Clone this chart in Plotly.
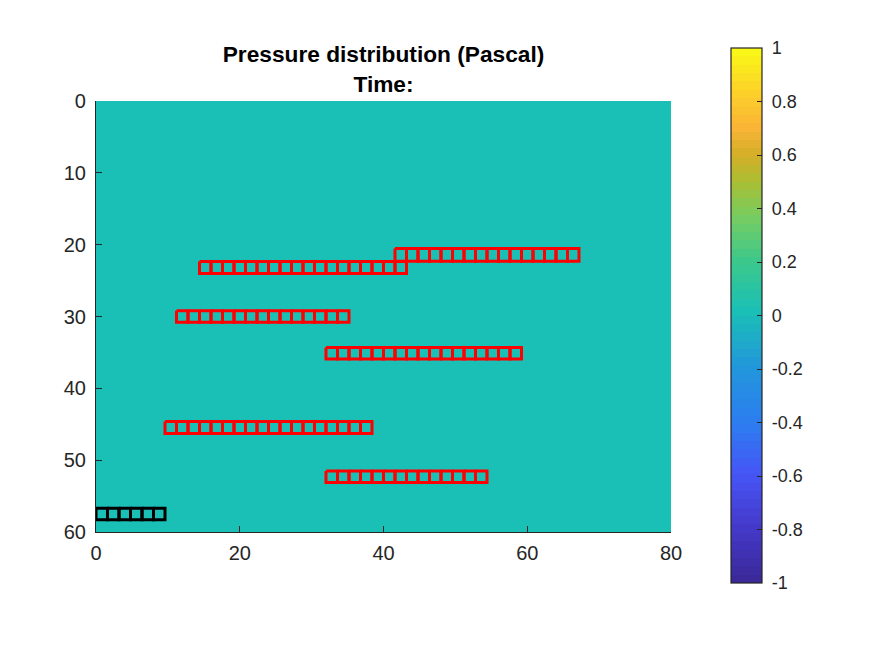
import plotly.graph_objects as go

# Pressure field (uniformly zero)
field_x = [0, 80]
field_y = [0, 60]
field_z = [[0]]

# Element rows: left edge, number of cells, top, bottom
CELL_WIDTH = 1.6
red_x0 = [14.4, 11.2, 41.6, 32.0, 9.6, 32.0]
red_n = [18, 15, 16, 17, 18, 14]
red_top = [22.35, 29.2, 20.55, 34.3, 44.6, 51.5]
red_bot = [24.0, 30.8, 22.3, 35.9, 46.3, 53.1]
black_x0 = [0.0]
black_n = [6]
black_top = [56.7]
black_bot = [58.3]

x_ticks = [0, 20, 40, 60, 80]
y_ticks = [0, 10, 20, 30, 40, 50, 60]
cbar_ticks = [-1, -0.8, -0.6, -0.4, -0.2, 0, 0.2, 0.4, 0.6, 0.8, 1]
cbar_labels = ["-1", "-0.8", "-0.6", "-0.4", "-0.2", "0", "0.2", "0.4", "0.6", "0.8", "1"]

# Colormap anchors, low to high
anchors = [
    (0.00, (58, 40, 150)), (0.10, (68, 56, 200)), (0.20, (70, 84, 245)),
    (0.30, (44, 125, 240)), (0.40, (34, 150, 220)), (0.508, (26, 191, 181)),
    (0.60, (60, 200, 140)), (0.68, (115, 205, 100)), (0.75, (170, 190, 50)),
    (0.80, (212, 175, 40)), (0.85, (250, 180, 55)), (0.92, (252, 210, 40)),
    (1.00, (249, 251, 21)),
]
N_STEPS = 64


def sample(t):
    for (a, ca), (b, cb) in zip(anchors, anchors[1:]):
        if t <= b:
            f = (t - a) / (b - a)
            return tuple(round(p + (q - p) * f) for p, q in zip(ca, cb))
    return anchors[-1][1]


colorscale = []
for i in range(N_STEPS):
    c = sample((i + 0.5) / N_STEPS)
    col = f"rgb{c}"
    colorscale.append([i / N_STEPS, col])
    colorscale.append([(i + 1) / N_STEPS, col])


def grid(x0s, ns, tops, bots):
    xs, ys = [], []
    for x0, n, t, b in zip(x0s, ns, tops, bots):
        for i in range(n):
            l, r = x0 + i * CELL_WIDTH, x0 + (i + 1) * CELL_WIDTH
            xs += [l, r, r, l, l, None]
            ys += [t, t, b, b, t, None]
    return xs, ys


INK = "#262626"
FONT = "Liberation Sans, Arial, sans-serif"
OFF = 8  # page margin around the figure
W, H = 875 - 2 * OFF, 656 - 2 * OFF
PW, PH = 671 - 96, 532 - 101

fig = go.Figure()
fig.add_trace(go.Heatmap(
    x=field_x, y=field_y, z=field_z, zmin=-1, zmax=1, colorscale=colorscale,
    hoverinfo="skip",
    colorbar=dict(
        thicknessmode="pixels", thickness=31, lenmode="fraction", len=535 / PH,
        x=(731 - 96) / PW, xanchor="left", xpad=0,
        y=(532 - 315.5) / PH, yanchor="middle", ypad=0,
        outlinecolor=INK, outlinewidth=1.2,
        ticks="inside", ticklen=5, tickwidth=1, tickcolor=INK,
        tickvals=cbar_ticks, ticktext=["\u00a0" + s for s in cbar_labels],
        tickfont=dict(family=FONT, size=18, color=INK),
    ),
))
rx, ry = grid(red_x0, red_n, red_top, red_bot)
fig.add_trace(go.Scatter(x=rx, y=ry, mode="lines", line=dict(color="#ff0000", width=3), hoverinfo="skip", showlegend=False))
bx, by = grid(black_x0, black_n, black_top, black_bot)
fig.add_trace(go.Scatter(x=bx, y=by, mode="lines", line=dict(color="#000000", width=3), hoverinfo="skip", showlegend=False, cliponaxis=False))

axis = dict(
    showgrid=False, zeroline=False, showline=True, linecolor=INK, linewidth=1.2,
    ticks="inside", ticklen=6, tickwidth=1, tickcolor=INK,
    tickfont=dict(family=FONT, size=20, color=INK),
)
fig.update_xaxes(range=[0, 80], tickvals=x_ticks, side="bottom", ticklabelstandoff=3, **axis)
fig.update_yaxes(range=[60, 0], tickvals=y_ticks, ticklabelstandoff=5, **axis)
fig.update_layout(
    width=W, height=H,
    margin=dict(l=96 - OFF, r=W - (671 - OFF), t=101 - OFF, b=H - (532 - OFF)),
    paper_bgcolor="white", plot_bgcolor="white", showlegend=False,
    title=dict(
        text="<b>Pressure distribution (Pascal)</b><br><b>Time:</b>",
        x=(383.5 - OFF) / W, xanchor="center", y=1 - (62 - OFF) / H, yanchor="top",
        font=dict(family=FONT, size=22.7, color="#000000"),
    ),
)
fig.write_html("out.html")
